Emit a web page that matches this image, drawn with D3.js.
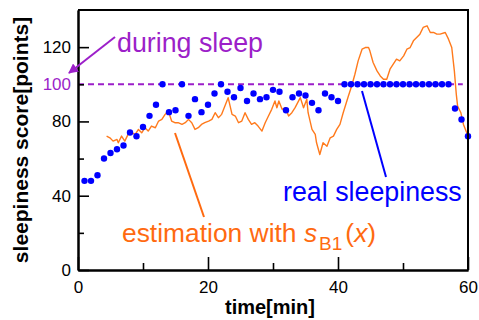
<!DOCTYPE html>
<html>
<head>
<meta charset="utf-8">
<script src="https://cdn.jsdelivr.net/npm/d3@7/dist/d3.min.js"></script>
<style>
  html, body { margin: 0; padding: 0; background: #fff; }
  svg { display: block; font-family: "Liberation Sans", Arial, sans-serif; }
</style>
</head>
<body>
<svg id="chart" width="479" height="320"></svg>
<script>
// ---- data ----
const realTime = [1,2,3,4,5,6,7,8,9,10,11,12,13,14,15,16,17,18,19,20,21,22,23,24,25,26,27,28,29,30,
  31,32,33,34,35,36,37,38,39,40,41,42,43,44,45,46,47,48,49,50,51,52,53,54,55,56,57,58,59,60];
const realValue = [48,48,51,60,63,65,67,74,72,77,83,89,100,85,86,100,83,92,85,89,95,100,96,93,98,91,95,92,93,97,
  96,86,93,95,94,90,86,95,93,91,100,100,100,100,100,100,100,100,100,100,100,100,100,100,100,100,100,87,81,72];

const estTime = [4.4,4.9,5.4,6.0,6.2,6.7,7.2,7.7,8.3,8.8,9.3,9.8,10.3,10.8,11.3,11.9,12.4,12.9,13.4,13.9,
  14.4,14.9,15.4,16.0,16.5,17.0,17.5,18.0,18.5,19.0,19.5,20.1,20.6,21.1,21.6,22.1,22.6,23.1,23.7,24.2,
  24.7,25.2,25.7,26.2,26.7,27.2,27.7,28.3,28.8,29.3,29.8,30.3,30.6,30.9,31.4,31.9,32.4,32.9,33.4,34.2,
  34.7,35.2,35.4,36.0,36.5,36.7,37.2,37.7,38.3,38.8,39.3,39.8,40.3,40.8,41.6,42.1,42.6,43.1,43.7,44.2,
  44.7,44.9,45.4,46.0,46.5,47.0,47.5,48.0,48.5,49.0,49.5,50.1,50.6,51.1,51.6,52.1,52.6,53.1,53.7,54.2,
  54.7,55.2,55.7,56.5,57.0,57.5,57.9,58.2,58.4,58.9,59.3,59.7,60.0];
const estValue = [72.1,71.2,69.4,70.3,68.5,72.1,69.4,73.0,73.9,73.0,75.7,73.9,76.6,74.8,77.5,76.6,80.2,81.1,83.8,85.6,
  80.2,79.3,79.3,78.4,79.3,81.1,79.3,75.7,76.6,78.4,79.3,80.2,81.1,84.7,82.0,83.8,88.3,92.8,83.8,82.9,
  79.3,80.2,84.7,81.1,78.4,79.3,77.5,74.8,79.3,82.9,86.5,91.0,87.4,91.0,86.5,87.4,82.9,84.7,87.4,92.8,
  87.4,91.9,84.7,75.7,73.0,68.5,62.2,68.5,66.6,71.2,72.1,75.7,78.4,84.7,93.7,99.1,105.4,112.6,118.9,119.8,
  119.8,118.0,111.7,107.2,104.5,102.7,102.7,108.1,110.8,113.5,112.6,115.3,118.9,119.8,123.4,125.2,127.0,130.6,131.5,127.9,
  127.9,127.0,127.0,127.9,124.3,119.8,107.2,94.6,88.3,84.7,78.4,74.8,72.1];

const xMajorTicks = [0, 20, 40, 60];
const xMinorTicks = [10, 30, 50];
const yMajorTicks = [0, 40, 80, 120];
const yMinorTicks = [20, 60];
const sleepLevel = 100;

// ---- layout ----
const W = 479, H = 320;
const m = {left: 78, right: 11, top: 10, bottom: 50};
const svg = d3.select("#chart");
const x = d3.scaleLinear().domain([0, 60]).range([m.left, W - m.right]);
const y = d3.scaleLinear().domain([0, 140]).range([H - m.bottom, m.top]);

const purple = "#9c1fc9", blue = "#0000ff", orange = "#ff6a10", orangeLine = "#ff7a1c";

// estimation line
svg.append("path")
  .datum(estTime.map((t, i) => [t, estValue[i]]))
  .attr("fill", "none").attr("stroke", orangeLine).attr("stroke-width", 1.4)
  .attr("stroke-linejoin", "round")
  .attr("d", d3.line().x(d => x(d[0])).y(d => y(d[1])));

// dashed sleep line
svg.append("line")
  .attr("x1", x(0)).attr("x2", x(59.2)).attr("y1", y(sleepLevel)).attr("y2", y(sleepLevel))
  .attr("stroke", purple).attr("stroke-width", 2).attr("stroke-dasharray", "6,4");

// dots
svg.append("g").selectAll("circle").data(realTime).join("circle")
  .attr("cx", d => x(d)).attr("cy", (d, i) => y(realValue[i])).attr("r", 3.2).attr("fill", blue);

// axes
const fs = "17px";
const gy = svg.append("g").attr("transform", `translate(${m.left},0)`)
  .call(d3.axisLeft(y).tickValues(yMajorTicks.concat([sleepLevel])).tickSize(-11).tickSizeOuter(0).tickPadding(7));
gy.selectAll(".tick").filter(d => d === sleepLevel).select("line").attr("x2", 6);
gy.selectAll(".tick").filter(d => d === sleepLevel).select("text").attr("fill", purple);
svg.append("g").attr("transform", `translate(${m.left},0)`)
  .call(d3.axisLeft(y).tickValues(yMinorTicks).tickSize(-6).tickSizeOuter(0).tickFormat(""));

const gx = svg.append("g").attr("transform", `translate(0,${H - m.bottom})`)
  .call(d3.axisBottom(x).tickValues(xMajorTicks).tickSize(-13).tickSizeOuter(0).tickPadding(11));
svg.append("g").attr("transform", `translate(0,${H - m.bottom})`)
  .call(d3.axisBottom(x).tickValues(xMinorTicks).tickSize(-7).tickSizeOuter(0).tickFormat(""));

svg.selectAll(".domain").attr("stroke", "#000").attr("stroke-width", 2);
svg.selectAll(".tick line").attr("stroke", "#000").attr("stroke-width", 1.6);
svg.selectAll(".tick text").attr("font-size", fs).attr("font-family", "Liberation Sans, Arial, sans-serif");
gx.selectAll(".tick text").attr("fill", "#000");
gy.selectAll(".tick text").filter(d => d !== sleepLevel).attr("fill", "#000");

// frame top & right
svg.append("path")
  .attr("d", `M${x(0)},${y(140)}H${x(60)}V${y(0)}`)
  .attr("fill", "none").attr("stroke", "#000").attr("stroke-width", 2);

// axis titles
svg.append("text").attr("x", (x(0) + x(60)) / 2 - 3).attr("y", 314)
  .attr("text-anchor", "middle").attr("font-weight", "bold").attr("font-size", "20px").text("time[min]");
svg.append("text").attr("transform", `translate(28,${(y(0) + y(140)) / 2}) rotate(-90)`)
  .attr("text-anchor", "middle").attr("font-weight", "bold").attr("font-size", "21px").text("sleepiness score[points]");

// annotations
const defs = svg.append("defs");
defs.append("marker").attr("id", "arrP").attr("viewBox", "0 0 10 10").attr("refX", 9).attr("refY", 5)
  .attr("markerWidth", 5).attr("markerHeight", 5).attr("orient", "auto")
  .append("path").attr("d", "M0,0L10,5L0,10z").attr("fill", purple);

svg.append("line").attr("x1", 115).attr("y1", 37).attr("x2", 69).attr("y2", 73)
  .attr("stroke", purple).attr("stroke-width", 2).attr("marker-end", "url(#arrP)");
svg.append("text").attr("x", 117).attr("y", 52).attr("font-size", "26.8px").attr("fill", purple).text("during sleep");

svg.append("line").attr("x1", 362).attr("y1", 91).attr("x2", 386).attr("y2", 177)
  .attr("stroke", blue).attr("stroke-width", 2);
svg.append("text").attr("x", 283).attr("y", 201).attr("font-size", "26.8px").attr("fill", blue).text("real sleepiness");

svg.append("line").attr("x1", 175).attr("y1", 133).attr("x2", 204).attr("y2", 217)
  .attr("stroke", orange).attr("stroke-width", 2);
const est = svg.append("text").attr("x", 122).attr("y", 242).attr("font-size", "26.4px").attr("fill", orange);
est.append("tspan").text("estimation with ");
est.append("tspan").attr("font-style", "italic").text("s");
est.append("tspan").attr("font-size", "19px").attr("dy", 8).attr("dx", 2).text("B1");
est.append("tspan").attr("dy", -8).attr("dx", 3).text("(");
est.append("tspan").attr("font-style", "italic").text("x");
est.append("tspan").text(")");
</script>
</body>
</html>
